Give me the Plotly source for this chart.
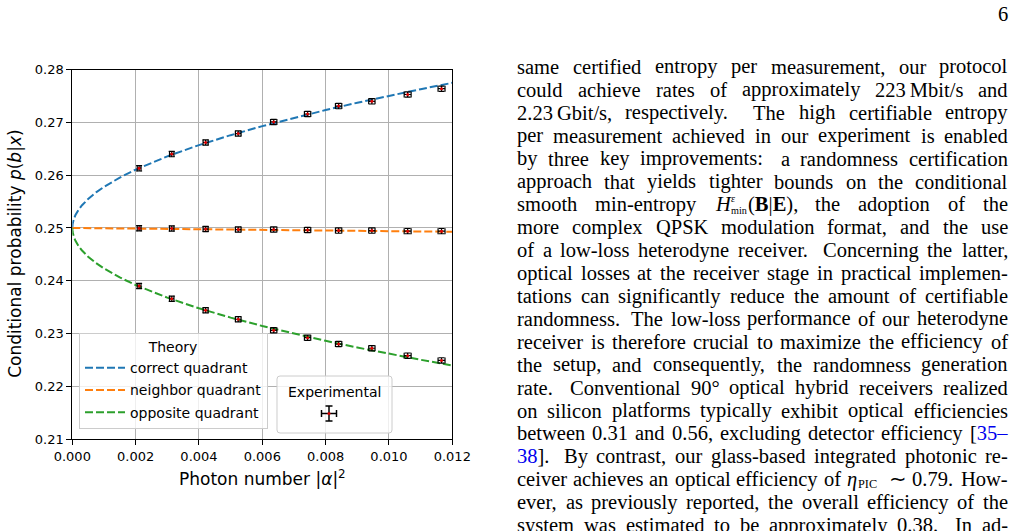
import re
import plotly.graph_objects as go

FIG_W, FIG_H = 1015, 531

# ---------------- data ----------------
theory_n = [0, 0.00001, 0.00005, 0.0001, 0.0002, 0.0003, 0.0005, 0.00075, 0.001, 0.0015,
            0.002, 0.0025, 0.003, 0.004, 0.005, 0.006, 0.007, 0.008, 0.009, 0.010, 0.011, 0.012]
theory_correct = [0.25, 0.25077, 0.25173, 0.25245, 0.25347, 0.25426, 0.2555, 0.25674, 0.25779, 0.25956,
                  0.26106, 0.26238, 0.26357, 0.26571, 0.26759, 0.2693, 0.27087, 0.27235, 0.27374,
                  0.27505, 0.27631, 0.27751]
theory_neighbor = [0.25, 0.25, 0.25, 0.24999, 0.24999, 0.24998, 0.24997, 0.24996, 0.24994, 0.24991,
                   0.24988, 0.24985, 0.24982, 0.24976, 0.2497, 0.24964, 0.24958, 0.24952, 0.24946,
                   0.2494, 0.24934, 0.24928]
theory_opposite = [0.25, 0.24923, 0.24827, 0.24756, 0.24655, 0.24578, 0.24456, 0.24335, 0.24233, 0.24062,
                   0.23918, 0.23793, 0.23679, 0.23477, 0.23301, 0.23142, 0.22996, 0.22861, 0.22734,
                   0.22615, 0.22502, 0.22393]

exp_n = [0.00211, 0.00314, 0.00421, 0.00524, 0.00636, 0.00743, 0.00841, 0.00946, 0.01059, 0.01166]
exp_n_err = [0.00006, 0.00007, 0.00008, 0.00009, 0.0001, 0.0001, 0.0001, 0.0001, 0.00011, 0.00011]
exp_correct = [0.2613, 0.2640, 0.2662, 0.2679, 0.2701, 0.2716, 0.2731, 0.2740, 0.2753, 0.2764]
exp_neighbor = [0.24995, 0.2499, 0.2498, 0.2497, 0.2497, 0.2496, 0.2495, 0.2495, 0.2494, 0.2494]
exp_opposite = [0.2390, 0.2366, 0.2344, 0.2327, 0.2306, 0.2292, 0.2280, 0.2272, 0.2258, 0.2249]
exp_p_err = [0.0005, 0.0005, 0.0005, 0.0005, 0.0005, 0.0005, 0.0005, 0.0005, 0.0005, 0.0005]

x_ticks = [0.0, 0.002, 0.004, 0.006, 0.008, 0.010, 0.012]
y_ticks = [0.21, 0.22, 0.23, 0.24, 0.25, 0.26, 0.27, 0.28]

series_names = ["correct quadrant", "neighbor quadrant", "opposite quadrant"]
series_colors = ["#1f77b4", "#ff7f0e", "#2ca02c"]

BLUE = "#0000ee"
page_lines = [
    "same certified entropy per measurement, our protocol",
    "could achieve rates of approximately 223\u2009Mbit/s and",
    "2.23\u2009Gbit/s, respectively. The high certifiable entropy",
    "per measurement achieved in our experiment is enabled",
    "by three key improvements: a randomness certification",
    "approach that yields tighter bounds on the conditional",
    "smooth min-entropy @HMIN the adoption of the",
    "more complex QPSK modulation format, and the use",
    "of a low-loss heterodyne receiver. Concerning the latter,",
    "optical losses at the receiver stage in practical implemen-",
    "tations can significantly reduce the amount of certifiable",
    "randomness. The low-loss performance of our heterodyne",
    "receiver is therefore crucial to maximize the efficiency of",
    "the setup, and consequently, the randomness generation",
    "rate. Conventional 90° optical hybrid receivers realized",
    "on silicon platforms typically exhibit optical efficiencies",
    "between 0.31 and 0.56, excluding detector efficiency [<span style='color:" + BLUE + "'>35–</span>",
    "<span style='color:" + BLUE + "'>38</span>]. By contrast, our glass-based integrated photonic re-",
    "ceiver achieves an optical efficiency of @ETA ∼ 0.79. How-",
    "ever, as previously reported, the overall efficiency of the",
    "system was estimated to be approximately 0.38. In ad-",
]

# ---------------- helpers ----------------
def px_x(p):
    return p / FIG_W

def px_y(p):
    return 1 - p / FIG_H

TIMES = {}
for ch, w in zip("abcdefghijklmnopqrstuvwxyz",
                 [444, 500, 444, 500, 444, 333, 500, 500, 278, 278, 500, 278, 778, 500, 500, 500, 500,
                  333, 389, 278, 500, 500, 722, 500, 500, 444]):
    TIMES[ch] = w
for ch, w in zip("ABCDEFGHIJKLMNOPQRSTUVWXYZ",
                 [722, 667, 667, 722, 611, 556, 722, 722, 333, 389, 722, 611, 889, 722, 722, 556, 722,
                  667, 556, 611, 722, 722, 944, 722, 722, 611]):
    TIMES[ch] = w
for ch in "0123456789":
    TIMES[ch] = 500
TIMES.update({" ": 250, ",": 250, ".": 250, ":": 278, ";": 278, "-": 333, "/": 278, "[": 333,
              "]": 333, "(": 333, ")": 333, "|": 200, "°": 400, "–": 500, "∼": 838, "η": 500,
              "ε": 439, "\u2009": 167})

def measure(html):
    parts = re.split(r"(<[^>]+>)", html)
    scale, w = 1.0, 0.0
    for p in parts:
        if p.startswith("<"):
            if p in ("<sub>", "<sup>"):
                scale = 0.7
            elif p in ("</sub>", "</sup>"):
                scale = 1.0
            continue
        for ch in p:
            w += TIMES.get(ch, 500) * scale
    return w / 1000.0

def plain(html):
    return re.sub(r"<[^>]+>", "", html)

def rounded_rect(xa, ya, xb, yb, r):
    def P(x, y):
        return f"{px_x(x):.6f},{px_y(y):.6f}"
    pts = [f"M{P(xa + r, ya)}", f"L{P(xb - r, ya)}", f"Q{P(xb, ya)} {P(xb, ya + r)}",
           f"L{P(xb, yb - r)}", f"Q{P(xb, yb)} {P(xb - r, yb)}", f"L{P(xa + r, yb)}",
           f"Q{P(xa, yb)} {P(xa, yb - r)}", f"L{P(xa, ya + r)}", f"Q{P(xa, ya)} {P(xa + r, ya)}"]
    return " ".join(pts) + " Z"

# ---------------- figure ----------------
fig = go.Figure()

for name, ys, col in zip(series_names, [theory_correct, theory_neighbor, theory_opposite], series_colors):
    fig.add_trace(go.Scatter(
        x=theory_n, y=ys, mode="lines", name=name, legendgroup=name,
        line=dict(color=col, width=2, dash="8px,3px"),
    ))

for k, ys in enumerate([exp_correct, exp_neighbor, exp_opposite]):
    fig.add_trace(go.Scatter(
        x=exp_n, y=ys, mode="markers", name="Experimental", showlegend=False,
        marker=dict(color="#e00000", size=3, line=dict(width=0)),
        error_x=dict(type="data", array=exp_n_err, color="black", thickness=1.2, width=3),
        error_y=dict(type="data", array=exp_p_err, color="black", thickness=1.2, width=3),
    ))

x0, x1 = 72.3, 452.3
y0, y1 = 69.7, 439.0
axis_common = dict(
    showgrid=True, gridcolor="#b0b0b0", gridwidth=1, zeroline=False, automargin=False,
    showline=True, linecolor="black", linewidth=1, mirror=True,
    ticks="outside", ticklen=5, tickwidth=1, tickcolor="black",
    tickfont=dict(family="DejaVu Sans", size=13, color="black"),
)
fig.update_layout(
    template="none",
    width=FIG_W, height=FIG_H, margin=dict(l=0, r=0, t=0, b=0, pad=0),
    paper_bgcolor="white", plot_bgcolor="white",
    xaxis=dict(domain=[px_x(x0), px_x(x1)], range=[0, 0.012], tickvals=x_ticks,
               tickformat=".3f", **axis_common),
    yaxis=dict(domain=[px_y(y1), px_y(y0)], range=[0.21, 0.28], tickvals=y_ticks,
               tickformat=".2f", **axis_common),
    showlegend=True,
    legend=dict(x=px_x(79), y=px_y(333), xanchor="left", yanchor="top",
                bgcolor="rgba(255,255,255,0.8)", bordercolor="#cccccc", borderwidth=1,
                font=dict(family="DejaVu Sans", size=14, color="black"),
                title=dict(text="Theory", side="top center",
                           font=dict(family="DejaVu Sans", size=14, color="black")),
                tracegroupgap=1, itemwidth=40),
)

# axis titles
fig.add_annotation(text="Photon number |<i>α</i>|<sup>2</sup>", x=px_x((x0 + x1) / 2), y=px_y(478),
                   xref="paper", yref="paper", showarrow=False, xanchor="center", yanchor="middle",
                   font=dict(family="DejaVu Sans", size=17, color="black"))
fig.add_annotation(text="Conditional probability <i>p</i>(<i>b</i>|<i>x</i>)", x=px_x(15.5),
                   y=px_y((y0 + y1) / 2), xref="paper", yref="paper", showarrow=False, textangle=-90,
                   xanchor="center", yanchor="middle",
                   font=dict(family="DejaVu Sans", size=17, color="black"))

# ---------------- "Experimental" legend box (manual: glyph with error bars) ----------------
fig.add_shape(type="path", path=rounded_rect(277, 376, 392, 433, 3), xref="paper", yref="paper",
              line=dict(color="#cccccc", width=1), fillcolor="rgba(255,255,255,0.8)", layer="above")
gx, gy, ga, gc = 329.0, 413.5, 7.5, 3.5
for (xa, ya, xb, yb) in [(gx - ga, gy, gx + ga, gy), (gx, gy - ga, gx, gy + ga),
                         (gx - ga, gy - gc, gx - ga, gy + gc), (gx + ga, gy - gc, gx + ga, gy + gc),
                         (gx - gc, gy - ga, gx + gc, gy - ga), (gx - gc, gy + ga, gx + gc, gy + ga)]:
    fig.add_shape(type="line", x0=px_x(xa), y0=px_y(ya), x1=px_x(xb), y1=px_y(yb), xref="paper",
                  yref="paper", line=dict(color="black", width=1.5), layer="above")
fig.add_shape(type="circle", x0=px_x(gx - 1.5), y0=px_y(gy - 1.5), x1=px_x(gx + 1.5), y1=px_y(gy + 1.5),
              xref="paper", yref="paper", line=dict(width=0), fillcolor="#e00000", layer="above")
fig.add_annotation(text="Experimental", x=px_x(334.5), y=px_y(392), xref="paper", yref="paper",
                   showarrow=False, xanchor="center", yanchor="middle",
                   font=dict(family="DejaVu Sans", size=14, color="black"))

# ---------------- page text (justified) ----------------
F = 20.5
L, R = 517.0, 1008.0
ASC, DESC = 0.891, 0.216          # Liberation Serif line box (em)
MID = (ASC - DESC) / 2            # box middle above the baseline (em)

def add_text(html, xpx, ypx, anchor="left", size=F):
    fig.add_annotation(text=html, x=px_x(xpx), y=px_y(ypx), xref="paper", yref="paper",
                       showarrow=False, xanchor=anchor, yanchor="middle", borderpad=0, borderwidth=0,
                       font=dict(family="Liberation Serif", size=size, color="black"))

def add_at_baseline(html, xpx, base, size, anchor="left"):
    add_text(html, xpx, base - MID * size, anchor=anchor, size=size)

SMALL = 0.6 * F
TINY = 10.2
H_W = 0.722 * F + 1.5
MIN_W = 1.556 * TINY + 1.0
BE_TXT = "(<b>B</b>|<b>E</b>),"
ETA_W = 0.5 * F + 1.0
PIC_W = 1.945 * SMALL + 0.5

def token_width(t):
    if t == "@HMIN":
        return H_W + MIN_W + measure(BE_TXT) * F
    if t == "@ETA":
        return ETA_W + PIC_W
    return measure(t) * F

def draw_token(t, x, yc, anchor="left"):
    base = yc + MID * F
    if t == "@HMIN":
        add_text("<i>H</i>", x, yc)
        add_at_baseline("<i>ε</i>", x + H_W, base - 9.3, TINY)
        add_at_baseline("min", x + H_W, base + 2.3, TINY)
        add_text(BE_TXT, x + H_W + MIN_W, yc)
    elif t == "@ETA":
        add_text("<i>η</i>", x, yc)
        add_at_baseline("PIC", x + ETA_W, base + 1.7, SMALL)
    else:
        add_text(t, x, yc, anchor=anchor)

for i, line in enumerate(page_lines):
    yc = 67.5 + 22.9 * i - 0.5
    toks = re.split(r" (?![^<]*>)", line)
    widths = [token_width(t) for t in toks]
    nat, wts = [], []
    for k in range(1, len(toks)):
        prev = plain(toks[k - 1])
        sent = prev.endswith(".") or prev.endswith(":")
        nat.append(0.25 * F + (0.1 * F if sent else 0))
        wts.append(2.0 if sent else 1.0)
    excess = (R - L) - sum(widths) - sum(nat)
    gaps = [g + excess * w / sum(wts) for g, w in zip(nat, wts)]
    x = L
    for k, t in enumerate(toks):
        if k == len(toks) - 1 and k > 0:
            draw_token(t, R, yc, anchor="right")
        else:
            draw_token(t, x, yc)
        if k < len(gaps):
            x += widths[k] + gaps[k]

add_text("6", 1008, 14, anchor="right")

fig.write_html("out.html")
